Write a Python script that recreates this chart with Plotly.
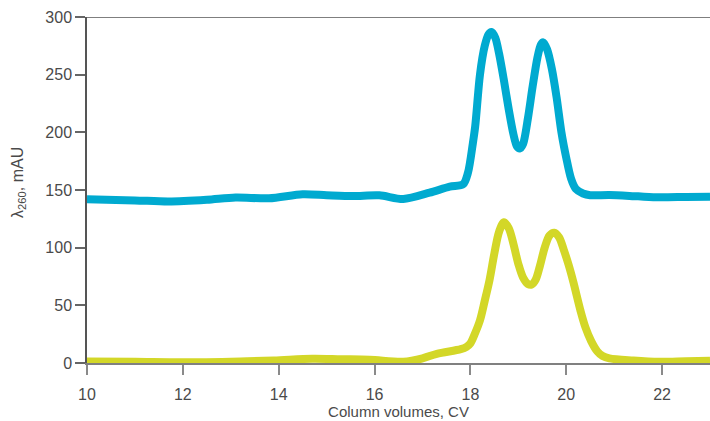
import plotly.graph_objects as go

# Column volume (CV) positions and absorbance readings for the two runs
cv_upper = [10.0, 11.0, 11.7, 12.5, 13.1, 13.8, 14.5, 15.0, 15.55, 16.1, 16.6,
            17.15, 17.57, 17.85, 17.95, 18.05, 18.1, 18.2, 18.3, 18.38, 18.44,
            18.52, 18.6, 18.7, 18.8, 18.9, 18.97, 19.03, 19.1, 19.2, 19.3, 19.4,
            19.47, 19.52, 19.6, 19.7, 19.8, 19.9, 20.0, 20.1, 20.2, 20.35, 20.5,
            20.9, 21.5, 21.94, 22.5, 23.0]
mau_upper = [142, 141, 140, 141.5, 143.5, 142.8, 146.3, 145.5, 144.8, 145.4, 142.2,
             147.7, 152.9, 155, 165, 190, 205, 250, 275, 285, 287,
             282, 268, 245, 220, 198, 188, 186, 190, 212, 240, 265,
             276, 278, 272, 255, 230, 200, 178, 160, 151, 147, 145.5,
             145.7, 144.5, 143.7, 144, 144.2]

cv_lower = [10.0, 11.0, 12.0, 13.2, 13.9, 14.7, 15.3, 15.9, 16.6, 17.0, 17.3,
            17.8, 17.92, 18.0, 18.1, 18.2, 18.3, 18.4, 18.5, 18.6, 18.7,
            18.8, 18.9, 19.0, 19.1, 19.2, 19.28, 19.36, 19.45, 19.55, 19.65,
            19.75, 19.85, 19.95, 20.05, 20.15, 20.3, 20.4, 20.52, 20.65, 20.76,
            20.9, 21.4, 21.94, 22.5, 23.0]
mau_lower = [1.2, 1.0, 0.6, 1.4, 2.2, 3.7, 3.3, 2.9, 1.1, 4.0, 8.0,
             12, 14, 17, 26, 37, 54, 72, 95, 114, 122,
             117, 103, 86, 74, 68.5, 68, 72, 84, 100, 110.5,
             113, 109, 98, 85, 70, 45, 31, 19, 10, 6,
             4.0, 2.2, 1.1, 1.6, 2.0]

x_ticks = [10, 12, 14, 16, 18, 20, 22]
y_ticks = [0, 50, 100, 150, 200, 250, 300]

BLUE = "#00AAD0"
YELLOW = "#D3D728"
FONT = "Liberation Sans, Arial, sans-serif"
TEXT = "#4a4a4a"

fig = go.Figure()
fig.add_trace(go.Scatter(x=cv_lower, y=mau_lower, mode="lines",
                         line=dict(color=YELLOW, width=8, shape="spline", smoothing=0.9),
                         hoverinfo="skip", showlegend=False))
fig.add_trace(go.Scatter(x=cv_upper, y=mau_upper, mode="lines",
                         line=dict(color=BLUE, width=8, shape="spline", smoothing=0.8),
                         hoverinfo="skip", showlegend=False))

# frame line along the top of the plotting area
fig.add_shape(type="line", xref="paper", yref="y", x0=0, x1=1, y0=300, y1=300,
              line=dict(color="#555555", width=1.5), layer="above")

# rotated y-axis caption
fig.add_annotation(text="λ<sub>260</sub>, mAU", xref="paper", yref="paper",
                   x=-0.111, y=0.523, xanchor="center", yanchor="middle",
                   textangle=-90, showarrow=False,
                   font=dict(family=FONT, size=16, color=TEXT))

fig.update_layout(
    width=710, height=421,
    margin=dict(l=87, r=0, t=17, b=58),
    paper_bgcolor="white", plot_bgcolor="white",
    font=dict(family=FONT, size=16, color=TEXT),
    xaxis=dict(range=[10, 23], tickvals=x_ticks, ticktext=[str(v) for v in x_ticks],
               showgrid=False, zeroline=False, showline=True, linecolor="#808080",
               linewidth=2, ticks="outside", ticklen=10, tickwidth=2, tickcolor="#8a8a8a",
               ticklabelstandoff=6,
               title=dict(text="Column volumes, CV", standoff=4,
                          font=dict(size=15, color=TEXT))),
    yaxis=dict(range=[0, 300], tickvals=y_ticks, ticktext=[str(v) for v in y_ticks],
               showgrid=False, zeroline=False, showline=True, linecolor="#555555",
               linewidth=1.5, ticks="outside", ticklen=10, tickwidth=1.5, tickcolor="#666666"),
)

fig.write_html("out.html")
